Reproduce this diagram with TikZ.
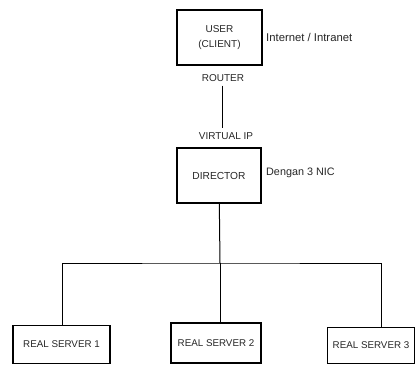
\documentclass[tikz,border=0pt]{standalone}
\usepackage{fontspec}
\setmainfont{Liberation Sans}
\usetikzlibrary{positioning}

\begin{document}
\begin{tikzpicture}[x=1pt,y=-1pt,
    box/.style={draw,line width=1.3pt,inner sep=0pt,text=black!85},
    lbl/.style={inner sep=1pt,text=black!85},
    wire/.style={line width=1pt}]

    \useasboundingbox (0,0) rectangle (416,365);

    \node [box,minimum width=85pt,minimum height=55pt,align=center,font=\fontsize{10}{15}\selectfont] (user) at (219.5,37.5) {USER\\(CLIENT)};
    \node [lbl,anchor=west,font=\fontsize{11.3}{12}\selectfont] (inet) at (265,37) {Internet / Intranet};
    \node [lbl,inner sep=4pt,font=\fontsize{10}{12}\selectfont] (router) at (223,78) {ROUTER};
    \node [lbl,inner sep=4pt,font=\fontsize{10}{12}\selectfont] (vip) at (226,136) {VIRTUAL IP};
    \draw [wire] (router.south -| 222,0) -- (vip.north -| 222,0) ;

    \node [box,minimum width=84pt,minimum height=55pt,font=\fontsize{10.2}{12}\selectfont] (dir) at (219,175.5) {DIRECTOR};
    \node [lbl,anchor=west,font=\fontsize{10.8}{12}\selectfont] (nic) at (265,173) {Dengan 3 NIC};

    \coordinate (bus) at (220,263);
    \draw [wire] (dir) -- (bus) ;

    \node [box,minimum width=97pt,minimum height=38pt,font=\fontsize{9.8}{11}\selectfont] (rs1) at (61.5,344.5) {REAL SERVER 1};
    \node [box,minimum width=90pt,minimum height=40pt,font=\fontsize{9.8}{11}\selectfont] (rs2) at (216,343) {REAL SERVER 2};
    \node [box,minimum width=87pt,minimum height=36pt,font=\fontsize{9.8}{11}\selectfont] (rs3) at (371,345.5) {REAL SERVER 3};

    \draw [wire] (rs1.north -| 62,0) |- (bus) -| (rs3.north -| 381,0) ;
    \draw [wire] (bus) -- (bus |- rs2.north) ;

  \end{tikzpicture}
\end{document}
